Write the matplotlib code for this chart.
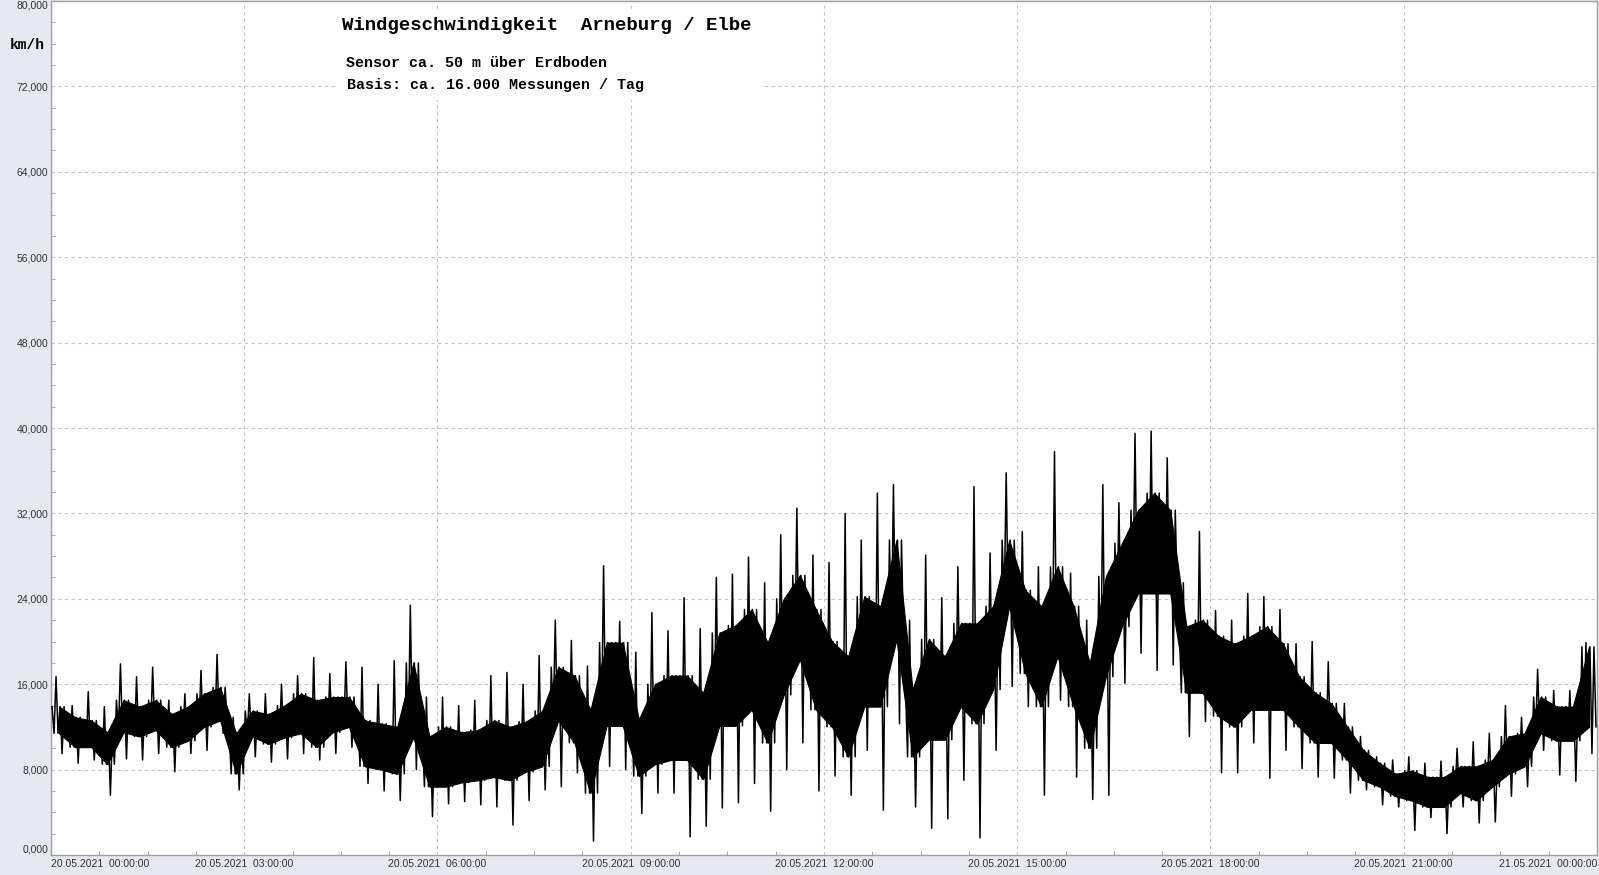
import numpy as np
import matplotlib
matplotlib.use("Agg")
import matplotlib.pyplot as plt
from matplotlib.patches import Rectangle
from matplotlib.ticker import MultipleLocator

# peak/trough = extreme spikes in the bin, upper/lower = dense core band.
peak = [16.7, 14.0, 15.3, 13.9, 17.9, 16.7, 17.6, 14.5, 15.1, 17.3, 18.8, 12.9, 15.1, 15.1, 16.0, 16.8,
        18.5, 17.0, 18.1, 17.6, 16.0, 18.2, 23.4, 14.8, 14.8, 14.0, 14.5, 16.8, 17.1, 16.0, 18.7, 22.0,
        20.1, 17.7, 27.1, 21.9, 19.0, 22.7, 21.0, 24.1, 21.2, 26.0, 26.3, 27.9, 25.5, 30.0, 32.5, 28.1,
        27.4, 32.0, 29.5, 33.9, 34.7, 22.0, 28.1, 24.1, 27.0, 34.5, 28.3, 35.8, 30.3, 27.0, 37.8, 26.4,
        22.0, 34.7, 33.0, 39.5, 39.7, 37.2, 25.5, 30.3, 22.9, 22.0, 24.5, 24.2, 23.0, 19.8, 20.0, 18.1,
        14.2, 11.1, 9.2, 8.9, 9.2, 8.6, 8.8, 10.0, 10.6, 11.4, 14.0, 12.9, 17.4, 15.4, 15.4, 19.9]
upper = [13.9, 12.9, 12.6, 11.5, 14.5, 13.9, 14.5, 13.2, 13.9, 15.1, 15.7, 11.4, 13.5, 13.2, 14.0, 15.1,
         14.5, 14.8, 14.8, 12.6, 12.3, 12.0, 18.0, 11.1, 12.0, 11.5, 11.7, 12.6, 12.0, 12.5, 13.5, 17.6,
         16.8, 13.6, 19.9, 19.9, 12.7, 16.0, 16.8, 16.8, 15.2, 20.8, 21.5, 23.0, 19.9, 24.0, 26.2, 23.0,
         20.0, 18.6, 24.2, 23.3, 29.5, 15.5, 20.2, 18.6, 21.7, 21.7, 23.3, 29.5, 24.8, 23.3, 27.0, 23.3,
         18.0, 26.1, 29.2, 32.3, 33.9, 32.3, 21.4, 22.0, 20.5, 19.8, 20.5, 21.4, 19.8, 16.7, 15.2, 14.2,
         12.0, 9.8, 8.6, 7.6, 7.9, 7.3, 7.3, 8.3, 8.3, 8.9, 11.1, 11.4, 14.8, 13.9, 13.9, 19.5]
lower = [11.4, 10.1, 10.1, 8.5, 11.5, 11.1, 11.7, 10.1, 10.7, 12.0, 12.6, 7.6, 11.1, 10.4, 11.0, 11.4,
         10.1, 11.5, 12.0, 8.3, 8.0, 7.6, 11.0, 6.4, 6.4, 6.8, 7.0, 7.3, 7.0, 7.8, 8.3, 12.6,
         10.5, 5.8, 12.1, 12.1, 7.4, 8.5, 8.9, 8.9, 7.1, 12.1, 12.1, 13.6, 10.5, 15.0, 18.3, 13.6,
         12.0, 9.2, 13.9, 13.9, 20.2, 9.2, 10.8, 10.8, 13.9, 12.3, 15.5, 23.3, 17.0, 13.9, 18.6, 13.9,
         10.0, 16.7, 21.4, 24.5, 24.5, 24.5, 15.2, 15.2, 13.0, 12.0, 13.6, 13.6, 13.6, 12.0, 10.5, 10.5,
         8.9, 7.0, 6.4, 5.5, 5.1, 4.5, 4.5, 5.8, 5.1, 6.4, 7.6, 8.3, 11.4, 10.7, 10.7, 12.0]
trough = [9.5, 8.6, 8.9, 5.6, 9.0, 8.9, 9.5, 7.8, 9.5, 9.8, 11.4, 6.1, 9.2, 8.7, 9.0, 9.5,
          8.9, 9.5, 10.1, 6.7, 6.0, 5.1, 8.0, 3.6, 4.8, 5.0, 4.7, 4.5, 2.8, 5.1, 6.1, 6.4,
          7.7, 1.3, 8.3, 8.0, 3.9, 5.8, 5.8, 1.7, 2.7, 4.4, 4.9, 6.7, 4.1, 8.0, 10.5, 6.0,
          7.4, 5.6, 9.8, 4.2, 12.3, 4.5, 2.5, 3.4, 7.0, 1.6, 9.8, 15.8, 13.9, 5.6, 14.5, 7.3,
          5.2, 5.6, 16.1, 18.9, 17.3, 17.8, 11.1, 12.5, 7.7, 7.7, 10.5, 7.2, 9.8, 8.1, 7.3, 7.2,
          5.8, 6.1, 4.7, 4.5, 2.3, 3.5, 2.0, 4.5, 3.0, 3.1, 5.5, 6.4, 9.8, 7.5, 6.9, 9.5]

hour_ticks = [0, 3, 6, 9, 12, 15, 18, 21, 24]
x_labels = ["20.05.2021  00:00:00", "20.05.2021  03:00:00", "20.05.2021  06:00:00",
            "20.05.2021  09:00:00", "20.05.2021  12:00:00", "20.05.2021  15:00:00",
            "20.05.2021  18:00:00", "20.05.2021  21:00:00", "21.05.2021  00:00:00"]
y_ticks = [0, 8, 16, 24, 32, 40, 48, 56, 64, 72, 80]

W, H = 1599, 875
fig = plt.figure(figsize=(W / 100, H / 100), dpi=100, facecolor="#e6e9f1")
ax = fig.add_axes([51 / W, 20 / H, 1546 / W, 854 / H])
ax.set_facecolor("white")

# dense core band through the bin centres, plus a tight zigzag over each
# bin's levels for the spiky measurement trace
t = (np.arange(len(peak)) + 0.5) * 0.25
pk, up, lo, tr = map(np.array, (peak, upper, lower, trough))
ax.fill_between(t, lo, up, color="black", lw=0.8, zorder=3)

offs = np.linspace(-0.109, 0.109, 8)
levels = np.stack([up, lo, pk, lo, up, tr, up, lo], axis=1)
xs = (t[:, None] + offs[None, :]).ravel()
ax.plot(xs, levels.ravel(), color="black", lw=1.1, zorder=3)

ax.set_xlim(0, 24)
ax.set_ylim(0, 80)

ax.set_axisbelow(True)
ax.grid(True, which="major", color="#c4c4c4", linestyle=(0, (3, 3)), lw=0.8)

ax.set_xticks(hour_ticks)
ax.set_xticklabels(x_labels, fontsize=7.5, family="Liberation Sans")
ax.set_yticks(y_ticks)
ax.set_yticklabels([f"{v:.3f}".replace(".", ",") for v in y_ticks],
                   fontsize=7.5, family="Liberation Sans")
ax.xaxis.set_minor_locator(MultipleLocator(0.75))
ax.yaxis.set_minor_locator(MultipleLocator(2))
ax.tick_params(which="both", direction="in", color="#9a9a9a", labelcolor="#333333")
ax.tick_params(which="major", length=0)
ax.tick_params(which="minor", length=3)
ax.tick_params(axis="y", pad=2)
ax.tick_params(axis="x", pad=3)

xl = ax.get_xticklabels()
xl[0].set_ha("left")
xl[-1].set_ha("right")
yl = ax.get_yticklabels()
yl[0].set_va("bottom")
yl[-1].set_va("top")

for s in ax.spines.values():
    s.set_color("#a0a0a0")
    s.set_linewidth(1)

# white box behind the caption texts
bx0, bx1, by0, by1 = 335, 763, 10, 100
ax.add_patch(Rectangle(((bx0 - 51) / 1546, (855 - by1) / 854), (bx1 - bx0) / 1546,
                       (by1 - by0) / 854, transform=ax.transAxes,
                       facecolor="white", edgecolor="none", zorder=1))

mono = "Liberation Mono"
fig.text(342 / W, 1 - 26 / H, "Windgeschwindigkeit  Arneburg / Elbe", family=mono,
         fontsize=13.7, fontweight="bold", va="center", ha="left")
fig.text(346 / W, 1 - 63 / H, "Sensor ca. 50 m über Erdboden", family=mono,
         fontsize=10.8, fontweight="bold", va="center", ha="left")
fig.text(347 / W, 1 - 85 / H, "Basis: ca. 16.000 Messungen / Tag", family=mono,
         fontsize=10.8, fontweight="bold", va="center", ha="left")
fig.text(10 / W, 1 - 45 / H, "km/h", family=mono, fontsize=10.5,
         fontweight="bold", va="center", ha="left")

fig.savefig("out.png", dpi=100, facecolor=fig.get_facecolor())
